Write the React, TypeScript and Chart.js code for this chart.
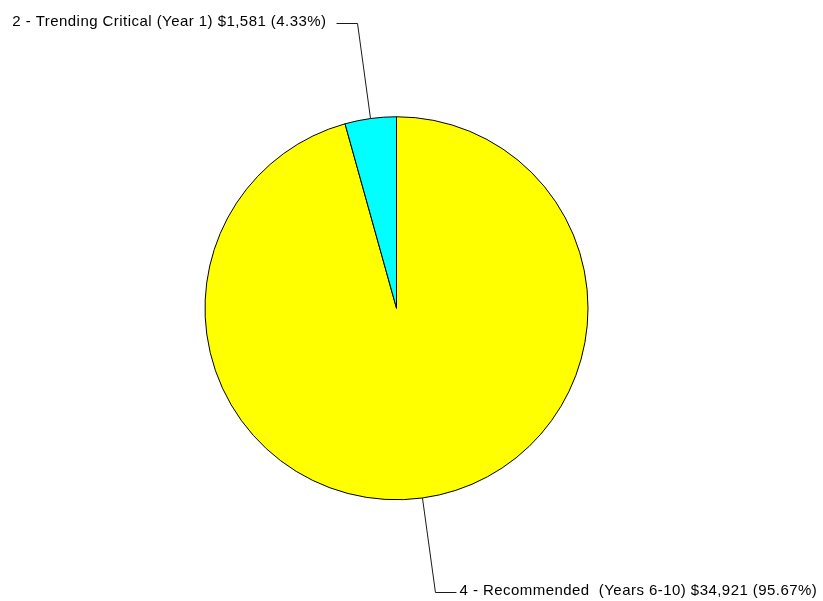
import React, { useEffect, useRef } from "react";
import { Chart, registerables } from "chart.js";

Chart.register(...registerables);

// Cost by priority category
const categories = ["4 - Recommended  (Years 6-10)", "2 - Trending Critical (Year 1)"];
const costs = [34921, 1581];
const sliceColors = ["#FFFF00", "#00FFFF"];

const WIDTH = 823;
const HEIGHT = 601;

const fmtMoney = (v: number) => "$" + v.toLocaleString("en-US");

// Draws callout labels with an elbowed leader line for every slice.
const calloutPlugin = {
  id: "callouts",
  afterDraw(chart: any) {
    const ctx = chart.ctx as CanvasRenderingContext2D;
    const meta = chart.getDatasetMeta(0);
    const values: number[] = chart.data.datasets[0].data;
    const total = values.reduce((a, b) => a + b, 0);
    ctx.save();
    meta.data.forEach((arc: any, i: number) => {
      const { x, y, startAngle, endAngle, outerRadius } = arc.getProps(
        ["x", "y", "startAngle", "endAngle", "outerRadius"],
        true
      );
      const mid = (startAngle + endAngle) / 2;
      const cos = Math.cos(mid);
      const sin = Math.sin(mid);
      const px = x + cos * outerRadius;
      const py = y + sin * outerRadius;
      const ex = x + cos * outerRadius * 1.5;
      const ey = Math.floor(y + sin * outerRadius * 1.5) + 0.5;
      const dir = cos >= 0 ? 1 : -1;
      const hx = ex + dir * 21;

      ctx.strokeStyle = "#1a1a1a";
      ctx.lineWidth = 1;
      ctx.beginPath();
      ctx.moveTo(px, py);
      ctx.lineTo(ex, ey);
      ctx.lineTo(hx, ey);
      ctx.stroke();

      const pct = ((values[i] / total) * 100).toFixed(2);
      const text = `${chart.data.labels[i]} ${fmtMoney(values[i])} (${pct}%)`;
      ctx.font = '15px "Liberation Sans", Arial, sans-serif';
      (ctx as any).letterSpacing = "0.45px";
      ctx.fillStyle = "#000000";
      ctx.textBaseline = "alphabetic";
      if (dir > 0) {
        ctx.textAlign = "left";
        ctx.fillText(text, hx + 3, ey + 2);
      } else {
        ctx.textAlign = "right";
        ctx.fillText(text, hx - 10, ey + 2);
      }
    });
    ctx.restore();
  },
};

export default function App() {
  const canvasRef = useRef<HTMLCanvasElement | null>(null);

  useEffect(() => {
    if (!canvasRef.current) return;
    const chart = new Chart(canvasRef.current, {
      type: "pie",
      data: {
        labels: categories,
        datasets: [
          {
            data: costs,
            backgroundColor: sliceColors,
            borderColor: "#000000",
            borderWidth: 1,
          },
        ],
      },
      options: {
        responsive: false,
        animation: false,
        devicePixelRatio: 1,
        layout: { padding: { left: 0, right: 30, top: 116.25, bottom: 100.75 } },
        plugins: {
          legend: { display: false },
          tooltip: { enabled: false },
          title: { display: false },
        },
      },
      plugins: [calloutPlugin],
    });
    return () => chart.destroy();
  }, []);

  return (
    <div style={{ position: "fixed", left: 0, top: 0, width: WIDTH, height: HEIGHT, background: "#fff" }}>
      <canvas ref={canvasRef} width={WIDTH} height={HEIGHT} style={{ display: "block" }} />
    </div>
  );
}
